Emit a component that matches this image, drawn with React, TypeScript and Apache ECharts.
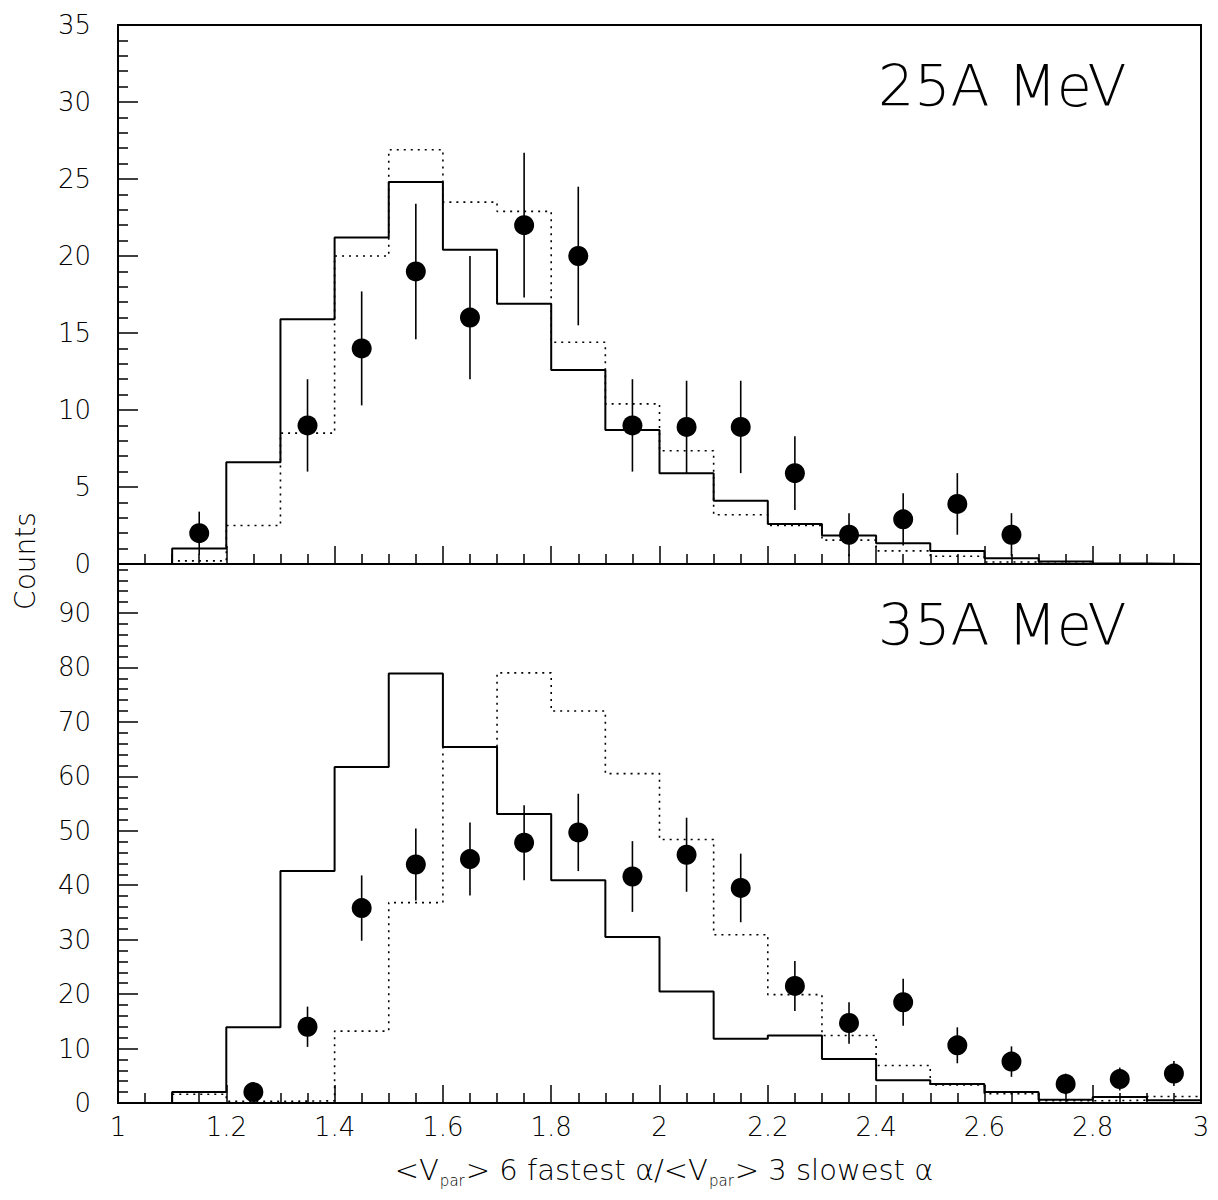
import React, { useEffect, useRef } from "react";
import * as echarts from "echarts";

// Bin edges (x axis: <Vpar> 6 fastest / <Vpar> 3 slowest)
const binEdges = [1.0, 1.1, 1.2, 1.3, 1.4, 1.5, 1.6, 1.7, 1.8, 1.9, 2.0, 2.1, 2.2, 2.3, 2.4, 2.5, 2.6, 2.7, 2.8, 2.9, 3.0];

// 25A MeV panel
const top25Solid = [0, 1.0, 6.6, 15.9, 21.2, 24.8, 20.4, 16.9, 12.6, 8.7, 5.9, 4.1, 2.6, 1.85, 1.35, 0.85, 0.38, 0.17, 0.03, 0];
const top25Dotted = [0, 0.2, 2.5, 8.5, 20.0, 26.9, 23.5, 22.9, 14.4, 10.4, 7.35, 3.2, 2.5, 1.55, 0.85, 0.5, 0.13, 0.05, 0, 0];
const top25X = [1.15, 1.35, 1.45, 1.55, 1.65, 1.75, 1.85, 1.95, 2.05, 2.15, 2.25, 2.35, 2.45, 2.55, 2.65];
const top25Y = [2, 9, 14, 19, 16, 22, 20, 9, 8.9, 8.9, 5.9, 1.9, 2.9, 3.9, 1.9];
const top25Err = [1.4, 3, 3.7, 4.4, 4, 4.7, 4.5, 3, 3, 3, 2.4, 1.4, 1.7, 2, 1.4];

// 35A MeV panel
const bot35Solid = [0, 2.0, 13.9, 42.6, 61.7, 78.9, 65.4, 53.1, 40.9, 30.5, 20.5, 11.8, 12.4, 8.1, 4.2, 3.5, 2.0, 0.6, 1.1, 0.5];
const bot35Dotted = [0, 1.6, 0.3, 0.4, 13.2, 36.8, 65.4, 79.0, 72.0, 60.5, 48.4, 30.9, 19.9, 12.4, 6.9, 3.3, 1.7, 0.4, 0.5, 1.2];
const bot35X = [1.25, 1.35, 1.45, 1.55, 1.65, 1.75, 1.85, 1.95, 2.05, 2.15, 2.25, 2.35, 2.45, 2.55, 2.65, 2.75, 2.85, 2.95];
const bot35Y = [2, 14, 35.8, 43.8, 44.8, 47.8, 49.7, 41.6, 45.6, 39.5, 21.5, 14.7, 18.5, 10.6, 7.6, 3.5, 4.4, 5.4];
const bot35Err = [1.4, 3.7, 6, 6.6, 6.7, 6.9, 7.1, 6.5, 6.8, 6.3, 4.6, 3.8, 4.3, 3.3, 2.8, 1.9, 2.1, 2.3];

const xTickLabels = ["1", "1.2", "1.4", "1.6", "1.8", "2", "2.2", "2.4", "2.6", "2.8", "3"];

const FONT = "DejaVu Sans";

function stepData(vals: number[]) {
  const d: number[][] = [];
  vals.forEach((v, i) => {
    d.push([binEdges[i], v]);
    d.push([binEdges[i + 1], v]);
  });
  return d;
}

function pointData(xs: number[], ys: number[], es: number[]) {
  return xs.map((x, i) => [x, ys[i], es[i]]);
}

const errRender = (params: any, api: any) => {
  const x = api.value(0);
  const y = api.value(1);
  const e = api.value(2);
  const p1 = api.coord([x, y - e]);
  const p2 = api.coord([x, y + e]);
  return {
    type: "line",
    shape: { x1: p1[0], y1: p1[1], x2: p2[0], y2: p2[1] },
    style: { stroke: "#000", lineWidth: 1.6 },
  };
};

function xAxisCfg(gridIndex: number, showLabels: boolean) {
  return {
    type: "value",
    gridIndex,
    min: 1,
    max: 3,
    interval: 0.2,
    axisLine: { show: true, onZero: false, lineStyle: { color: "#000", width: 2 } },
    axisTick: { show: true, inside: true, length: 18, lineStyle: { color: "#000", width: 1.5 } },
    minorTick: { show: true, splitNumber: 4, length: 10, lineStyle: { color: "#000", width: 1.5 } },
    splitLine: { show: false },
    minorSplitLine: { show: false },
    axisLabel: {
      show: showLabels,
      fontSize: 26,
      fontFamily: FONT,
      fontWeight: 300,
      color: "#000",
      margin: 11,
      formatter: (v: number) => {
        const idx = Math.round((v - 1) / 0.2);
        return xTickLabels[idx] ?? "";
      },
    },
  };
}

function yAxisCfg(gridIndex: number, max: number, interval: number) {
  return {
    type: "value",
    gridIndex,
    min: 0,
    max,
    interval,
    axisLine: { show: true, onZero: false, lineStyle: { color: "#000", width: 2 } },
    axisTick: { show: true, inside: true, length: 20, lineStyle: { color: "#000", width: 1.5 } },
    minorTick: { show: true, splitNumber: 5, length: 10, lineStyle: { color: "#000", width: 1.5 } },
    splitLine: { show: false },
    minorSplitLine: { show: false },
    axisLabel: {
      fontSize: 26,
      fontFamily: FONT,
      fontWeight: 300,
      color: "#000",
      margin: 27,
      showMaxLabel: gridIndex === 0,
    },
  };
}

export default function App() {
  const ref = useRef<HTMLDivElement>(null);
  useEffect(() => {
    document.body.style.margin = "0";
    const chart = echarts.init(ref.current!, null, { renderer: "svg" });
    const lineStyleSolid = { color: "#000", width: 2, type: "solid" };
    const lineStyleDot = { color: "#000", width: 1.6, type: [2, 5] };
    chart.setOption({
      animation: false,
      backgroundColor: "#fff",
      textStyle: { fontFamily: FONT },
      grid: [
        { left: 118, top: 25, width: 1083, height: 539, show: true, borderColor: "#000", borderWidth: 2, backgroundColor: "transparent" },
        { left: 118, top: 564, width: 1083, height: 539, show: true, borderColor: "#000", borderWidth: 2, backgroundColor: "transparent" },
      ],
      xAxis: [xAxisCfg(0, false), xAxisCfg(1, true)],
      yAxis: [yAxisCfg(0, 35, 5), yAxisCfg(1, 99, 10)],
      series: [
        { name: "25 dotted", type: "line", xAxisIndex: 0, yAxisIndex: 0, data: stepData(top25Dotted), showSymbol: false, symbol: "none", lineStyle: lineStyleDot, z: 2 },
        { name: "25 solid", type: "line", xAxisIndex: 0, yAxisIndex: 0, data: stepData(top25Solid), showSymbol: false, symbol: "none", lineStyle: lineStyleSolid, z: 3 },
        { name: "25 err", type: "custom", xAxisIndex: 0, yAxisIndex: 0, data: pointData(top25X, top25Y, top25Err), renderItem: errRender, encode: { x: 0, y: 1 }, z: 4 },
        { name: "25 data", type: "scatter", xAxisIndex: 0, yAxisIndex: 0, data: pointData(top25X, top25Y, top25Err), symbol: "circle", symbolSize: 20, itemStyle: { color: "#000", opacity: 1 }, z: 5 },
        { name: "35 dotted", type: "line", xAxisIndex: 1, yAxisIndex: 1, data: stepData(bot35Dotted), showSymbol: false, symbol: "none", lineStyle: lineStyleDot, z: 2 },
        { name: "35 solid", type: "line", xAxisIndex: 1, yAxisIndex: 1, data: stepData(bot35Solid), showSymbol: false, symbol: "none", lineStyle: lineStyleSolid, z: 3 },
        { name: "35 err", type: "custom", xAxisIndex: 1, yAxisIndex: 1, data: pointData(bot35X, bot35Y, bot35Err), renderItem: errRender, encode: { x: 0, y: 1 }, z: 4 },
        { name: "35 data", type: "scatter", xAxisIndex: 1, yAxisIndex: 1, data: pointData(bot35X, bot35Y, bot35Err), symbol: "circle", symbolSize: 20, itemStyle: { color: "#000", opacity: 1 }, z: 5 },
      ],
      graphic: [
        { type: "text", x: 878, y: 86, style: { text: "25A MeV", fontSize: 57, fontFamily: FONT, fontWeight: 200, fill: "#000", textAlign: "left", textVerticalAlign: "middle" } },
        { type: "text", x: 878, y: 625, style: { text: "35A MeV", fontSize: 57, fontFamily: FONT, fontWeight: 200, fill: "#000", textAlign: "left", textVerticalAlign: "middle" } },
        { type: "text", x: 25, y: 561, rotation: Math.PI / 2, style: { text: "Counts", fontSize: 28, fontFamily: FONT, fontWeight: 300, fill: "#000", textAlign: "center", textVerticalAlign: "middle" } },
        {
          type: "text",
          x: 664,
          y: 1170,
          style: {
            text: "{a|<V}{s|par}{a|> 6 fastest α/<V}{s|par}{a|> 3 slowest α}",
            textAlign: "center",
            textVerticalAlign: "middle",
            fill: "#000",
            rich: {
              a: { fontSize: 29, fontFamily: FONT, fontWeight: 300, fill: "#000", lineHeight: 36, verticalAlign: "middle" },
              s: { fontSize: 15, fontFamily: FONT, fontWeight: 300, fill: "#000", lineHeight: 36, verticalAlign: "bottom", padding: [0, 1, 0, 1] },
            },
          },
        },
      ],
    });
    return () => chart.dispose();
  }, []);
  return <div ref={ref} style={{ width: 1218, height: 1200 }} />;
}
